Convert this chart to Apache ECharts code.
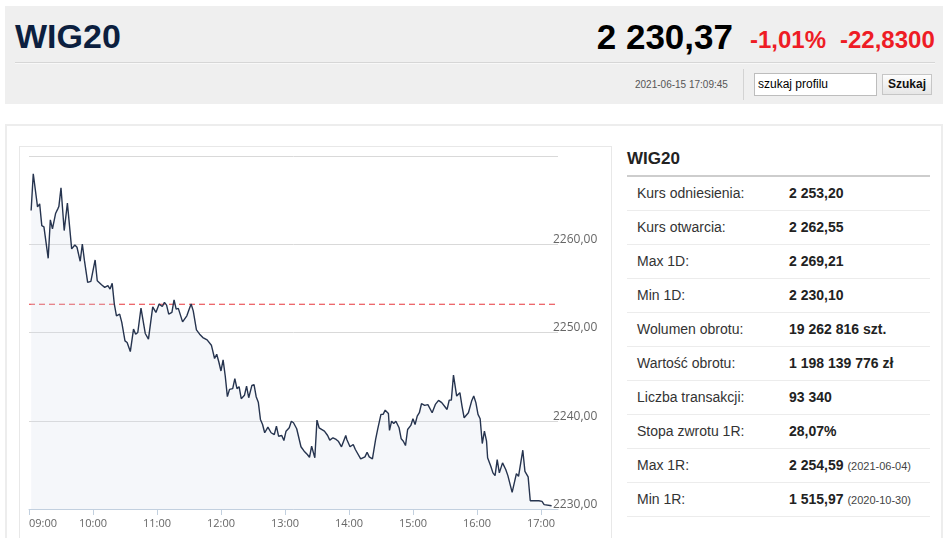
<!DOCTYPE html>
<html><head><meta charset="utf-8">
<script src="https://cdn.jsdelivr.net/npm/echarts@6/dist/echarts.min.js"></script>
<style>
body{margin:0;width:948px;height:538px;overflow:hidden;background:#fff;font-family:'Liberation Sans',Arial,sans-serif;position:relative}
.a{position:absolute;white-space:nowrap}
.hdr{left:5px;top:6px;width:938px;height:98px;background:#efefef}
.ttl{left:15px;top:19px;font-size:34px;line-height:34px;font-weight:bold;color:#0c1f3f}
.price{right:215px;top:19px;font-size:35px;line-height:35px;font-weight:bold;color:#000}
.red{top:28px;font-size:24px;line-height:24px;font-weight:bold;color:#ee1c25}
.sep{left:15px;top:62px;width:920px;height:1px;background:#d6d6d6;border-bottom:1px solid #f8f8f8}
.ts{left:635px;top:79px;font-size:10px;line-height:12px;color:#555}
.vsep{left:743px;top:69px;width:1px;height:31px;background:#d3d3d3}
.inp{left:754px;top:73px;background:#fff;border:1px solid #bdbdbd;font-size:12px;line-height:21px;padding-left:3px;box-sizing:border-box;width:123px;height:23px;color:#000}
.btn{left:882px;top:74px;width:50px;height:21px;box-sizing:border-box;border:1px solid #c6c6c6;background:linear-gradient(#fdfdfd,#e6e6e6);font-size:12px;line-height:19px;font-weight:bold;text-align:center;color:#111}
.panel{left:5px;top:124px;width:938px;height:430px;box-sizing:border-box;border:2px solid #ededed}
.cbox{left:19px;top:146px;width:593px;height:400px;box-sizing:border-box;border:1px solid #e8e8e8}
#chart{position:absolute;left:20px;top:147px;width:590px;height:391px}
.h2{left:627px;top:149px;font-size:17px;line-height:20px;font-weight:bold;color:#222}
.uline{left:627px;top:175px;width:303px;height:2px;background:#cdcdcd}
.row{left:627px;width:303px;height:34px;box-sizing:border-box;border-bottom:1px solid #ececec;font-size:14px;line-height:33px;color:#333}
.row .l{position:absolute;left:10px}
.row .v{position:absolute;left:162px;font-weight:bold;color:#222}
.row .v small{font-size:11px;font-weight:normal;color:#444}
</style></head><body>
<div class="a hdr"></div>
<div class="a ttl">WIG20</div>
<div class="a price">2 230,37</div>
<div class="a red" style="left:750px">-1,01%</div>
<div class="a red" style="left:840px">-22,8300</div>
<div class="a sep"></div>
<div class="a ts">2021-06-15 17:09:45</div>
<div class="a vsep"></div>
<div class="a inp">szukaj profilu</div>
<div class="a btn">Szukaj</div>
<div class="a panel"></div>
<div class="a cbox"></div>
<div id="chart"></div>
<div class="a h2">WIG20</div>
<div class="a uline"></div>
<div id="tbl"></div>
<script>
// ---- data ----
const times = ['09:02','09:04','09:08','09:10','09:12','09:14','09:18','09:20','09:22','09:25','09:27','09:28','09:30','09:33','09:36','09:40','09:43','09:45','09:48','09:50','09:52','09:55','09:58',
'10:02','10:04','10:08','10:11','10:14','10:16','10:18','10:20','10:22','10:25','10:27','10:30','10:32','10:35','10:38','10:40','10:42','10:45','10:49','10:52','10:56','10:59',
'11:02','11:05','11:07','11:09','11:11','11:14','11:16','11:18','11:20','11:24','11:28','11:30','11:32','11:34','11:37','11:40','11:43','11:47','11:51','11:54','11:56','11:58',
'12:00','12:02','12:04','12:06','12:08','12:11','12:13','12:15','12:17','12:19','12:22','12:24','12:26','12:29','12:31','12:33','12:35','12:37','12:39','12:41','12:44','12:47','12:50','12:52','12:54','12:57','12:59',
'13:01','13:04','13:06','13:08','13:11','13:12','13:15','13:18','13:21','13:23','13:25','13:28','13:30','13:32','13:37','13:40','13:42','13:45','13:48','13:50','13:53','13:54','13:57','13:58',
'14:01','14:04','14:06','14:11','14:15','14:17','14:19','14:22','14:25','14:27','14:30','14:32','14:34','14:37','14:38','14:40','14:42','14:44','14:47','14:49','14:51','14:53','14:55','14:58',
'15:00','15:02','15:04','15:06','15:08','15:11','15:14','15:18','15:21','15:24','15:27','15:30','15:32','15:34','15:36','15:38','15:41','15:42','15:44','15:46','15:48','15:52','15:55','15:57','15:59',
'16:01','16:03','16:05','16:07','16:09','16:10','16:13','16:15','16:17','16:19','16:21','16:24','16:27','16:29','16:33','16:34','16:37','16:39','16:43','16:45','16:46','16:48','16:50','16:58',
'17:01','17:03','17:10'];
const values = [2263.82,2267.99,2264.24,2264.58,2262.11,2261.97,2258.41,2262.76,2261.74,2263.52,2264.01,2264.27,2266.40,2261.55,2264.66,2259.47,2259.92,2259.66,2258.07,2260.03,2258.14,2255.68,2255.80,
2258.22,2255.86,2255.41,2255.11,2255.30,2254.92,2255.57,2253.22,2251.89,2252.08,2251.14,2249.05,2248.86,2247.84,2250.38,2249.81,2250.00,2252.76,2249.89,2249.24,2252.91,2252.27,
2253.22,2252.95,2253.41,2253.10,2252.08,2252.27,2253.70,2252.65,2252.73,2251.20,2251.89,2252.57,2253.22,2252.45,2250.30,2249.81,2249.43,2249.16,2248.56,2247.05,2247.53,2246.66,
2245.64,2246.89,2245.07,2242.73,2243.56,2243.64,2244.77,2243.64,2243.86,2242.50,2242.88,2243.93,2242.61,2244.01,2244.09,2242.73,2242.11,2240.15,2239.58,2238.64,2239.27,2238.64,2238.44,2239.39,2238.25,2238.33,2237.76,
2238.82,2239.20,2239.95,2239.77,2239.09,2239.20,2237.05,2236.55,2236.17,2235.86,2237.11,2235.80,2240.07,2239.20,2238.82,2238.33,2237.80,2238.07,2237.88,2237.68,2237.05,2237.11,2238.33,2237.88,
2237.05,2237.31,2236.74,2235.68,2235.91,2236.43,2235.91,2235.68,2237.88,2239.09,2240.72,2240.72,2241.20,2240.83,2238.90,2239.95,2239.69,2239.95,2239.20,2237.95,2237.68,2237.19,2239.01,2239.47,
2240.23,2239.58,2240.52,2240.91,2241.93,2241.74,2241.82,2240.91,2241.85,2242.31,2242.05,2241.59,2241.28,2242.34,2242.34,2245.18,2242.80,2242.99,2243.18,2241.66,2240.34,2240.91,2242.23,2242.80,2242.05,
2240.72,2240.23,2237.42,2238.82,2237.68,2235.80,2234.84,2234.09,2233.78,2235.60,2234.09,2235.23,2234.47,2233.78,2231.89,2231.82,2234.01,2233.70,2236.66,2234.27,2234.47,2233.64,2230.94,2230.94,
2230.86,2230.49,2230.37];
const refValue = 2253.20;           // Kurs odniesienia
const xTickLabels = ['09:00','10:00','11:00','12:00','13:00','14:00','15:00','16:00','17:00'];
const xAxisStart = '09:00', xAxisEnd = '17:16';
const yMin = 2230, yMax = 2270, yStep = 10;
const tableLabels = ['Kurs odniesienia:','Kurs otwarcia:','Max 1D:','Min 1D:','Wolumen obrotu:','Wartość obrotu:','Liczba transakcji:','Stopa zwrotu 1R:','Max 1R:','Min 1R:'];
const tableValues = ['2 253,20','2 262,55','2 269,21','2 230,10','19 262 816 szt.','1 198 139 776 zł','93 340','28,07%','2 254,59','1 515,97'];
const tableNotes = ['','','','','','','','','(2021-06-04)','(2020-10-30)'];

// ---- table ----
const tbl = document.getElementById('tbl');
tableLabels.forEach((l,i)=>{
  const r=document.createElement('div');
  r.className='a row'; r.style.top=(177+34*i)+'px';
  r.innerHTML='<span class="l">'+l+'</span><span class="v">'+tableValues[i]+(tableNotes[i]?' <small>'+tableNotes[i]+'</small>':'')+'</span>';
  tbl.appendChild(r);
});

// ---- chart ----
const toMin = t => { const p=t.split(':').map(Number); return p[0]*60+p[1]; };
const pad = n => String(n).padStart(2,'0');
const fmtX = v => pad(Math.floor(v/60))+':'+pad(Math.round(v%60));
const fmtY = v => v.toFixed(2).replace('.',',');
const xTicks = xTickLabels.map(toMin);
const x0 = toMin(xAxisStart), x1 = toMin(xAxisEnd);

const chart = echarts.init(document.getElementById('chart'), null, {renderer:'canvas'});
chart.setOption({
  animation:false,
  grid:{left:9,right:52,top:9,bottom:29},
  xAxis:{type:'value',min:x0,max:x1,
    axisLine:{show:true,lineStyle:{color:'#c2d0df',width:1}},
    axisTick:{show:true,length:6,customValues:xTicks,lineStyle:{color:'#c2d0df'}},
    axisLabel:{customValues:xTicks,formatter:fmtX,color:'#666',fontSize:11,fontFamily:'Open Sans',margin:9,alignMinLabel:'left'},
    splitLine:{show:false}},
  yAxis:{type:'value',position:'right',min:yMin,max:yMax,interval:yStep,
    axisLine:{show:false},axisTick:{show:false},
    axisLabel:{formatter:v=>v===yMax?'':'{a|'+fmtY(v)+'}',margin:-5,verticalAlign:'bottom',
      rich:{a:{lineHeight:9,color:'#666',fontSize:12,fontFamily:'Open Sans'}}},
    splitLine:{lineStyle:{color:'#d9d9d9',width:1}}},
  series:[
    {type:'line',data:[[x0,refValue],[x1,refValue]],symbol:'none',silent:true,z:1,
     lineStyle:{color:'#e8373d',type:[6,4],width:1.2}},
    {type:'line',data:times.map((t,i)=>[toMin(t),values[i]]),symbol:'none',z:2,
     lineStyle:{color:'#26344f',width:1.4},
     areaStyle:{color:'rgba(215,222,235,0.35)',origin:'start'}}
  ]
});
</script>
</body></html>
